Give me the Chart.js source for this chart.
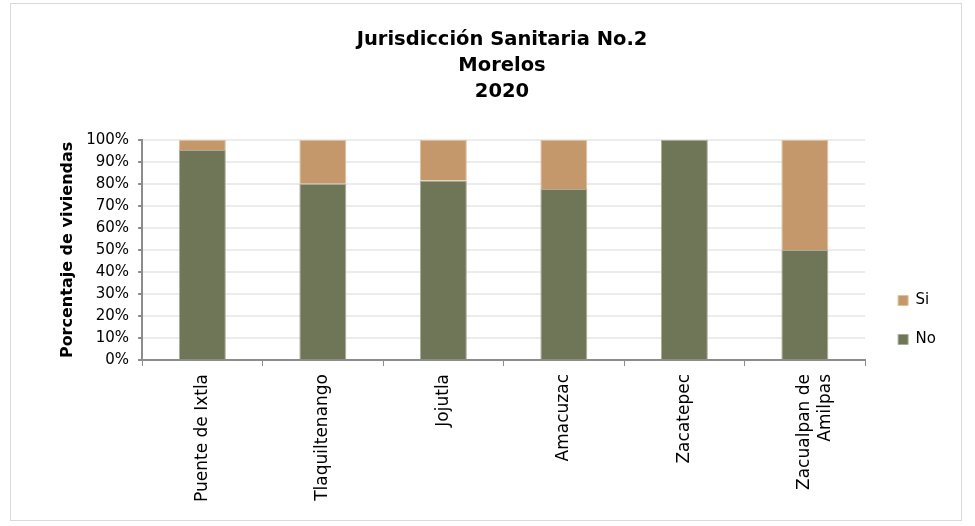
<!DOCTYPE html>
<html>
<head>
<meta charset="utf-8">
<script src="https://cdn.jsdelivr.net/npm/chart.js@4.4.0/dist/chart.umd.min.js"></script>
<style>
    html, body { margin: 0; padding: 0; background: #fff; }
    #frame {
        position: absolute; left: 10px; top: 3px;
        width: 952px; height: 518px;
        border: 1px solid #d9d9d9; box-sizing: border-box;
    }
</style>
</head>
<body>
<div id="frame"><canvas id="chart"></canvas></div>
<script>
// Chart data
const municipios = ["Puente de Ixtla", "Tlaquiltenango", "Jojutla", "Amacuzac", "Zacatepec", ["Zacualpan de", "Amilpas"]];
const noValues = [95.4, 80.0, 81.5, 77.6, 100.0, 50.0];
const siValues = [4.6, 20.0, 18.5, 22.4, 0.0, 50.0];
const yTicks = [0, 10, 20, 30, 40, 50, 60, 70, 80, 90, 100];
const titleLines = ["Jurisdicción Sanitaria No.2", "Morelos", "2020"];

const FONT = "'DejaVu Sans', 'Liberation Sans', sans-serif";

// Nudge the legend down a little, like the original sits near the bottom
const legendShift = {
    id: 'legendShift',
    afterLayout(chart) {
        if (chart.legend) {
            chart.legend.top += 11;
            chart.legend.bottom += 11;
        }
    }
};

// Build chart
const ctx = document.getElementById("chart");
new Chart(ctx, {
    type: 'bar',
    data: {
        labels: municipios,
        datasets: [
            {
                label: 'No',
                data: noValues,
                backgroundColor: '#6f7658',
                borderColor: '#a9ad98',
                borderWidth: 1,
                barPercentage: 0.39,
                categoryPercentage: 1.0
            },
            {
                label: 'Si',
                data: siValues,
                backgroundColor: '#c4986b',
                borderColor: '#e0c29c',
                borderWidth: 1,
                barPercentage: 0.39,
                categoryPercentage: 1.0
            }
        ]
    },
    options: {
        responsive: true,
        maintainAspectRatio: false,
        animation: false,
        layout: { padding: { left: 47, right: 15, top: 14, bottom: 10 } },
        plugins: {
            title: {
                display: true,
                text: titleLines,
                color: '#000',
                font: { family: FONT, size: 19.5, weight: 'bold', lineHeight: 1.33 },
                padding: { top: 9, bottom: 35 }
            },
            legend: {
                position: 'right',
                align: 'end',
                fullSize: false,
                reverse: true,
                labels: {
                    color: '#000',
                    font: { family: FONT, size: 15 },
                    boxWidth: 10,
                    boxHeight: 10,
                    padding: 24,
                    useBorderRadius: false
                }
            },
            tooltip: { enabled: false }
        },
        scales: {
            x: {
                stacked: true,
                grid: {
                    display: true,
                    drawOnChartArea: false,
                    offset: true,
                    color: '#8c8c8c',
                    tickLength: 6
                },
                border: { color: '#8c8c8c', width: 2 },
                ticks: {
                    color: '#000',
                    font: { family: FONT, size: 17 },
                    minRotation: 90,
                    maxRotation: 90,
                    autoSkip: false,
                    padding: 8
                }
            },
            y: {
                stacked: true,
                min: 0,
                max: 100,
                afterBuildTicks: (axis) => { axis.ticks = yTicks.map(v => ({ value: v })); },
                grid: {
                    color: '#ececec',
                    lineWidth: 2,
                    tickColor: '#8c8c8c',
                    tickLength: 4
                },
                border: { color: '#8c8c8c', width: 2 },
                ticks: {
                    color: '#000',
                    font: { family: FONT, size: 15 },
                    padding: 9,
                    autoSkip: false,
                    callback: (v) => v + '%'
                },
                title: {
                    display: true,
                    text: 'Porcentaje de viviendas',
                    color: '#000',
                    font: { family: FONT, size: 16, weight: 'bold' },
                    padding: { top: 0, bottom: 0 }
                }
            },
            // empty spacer axis so the legend sits a bit away from the plot
            gap: {
                position: 'right',
                display: true,
                grid: { display: false },
                border: { display: false },
                ticks: { display: false },
                afterFit: (axis) => { axis.width = 9; }
            }
        }
    },
    plugins: [legendShift]
});
</script>
</body>
</html>
